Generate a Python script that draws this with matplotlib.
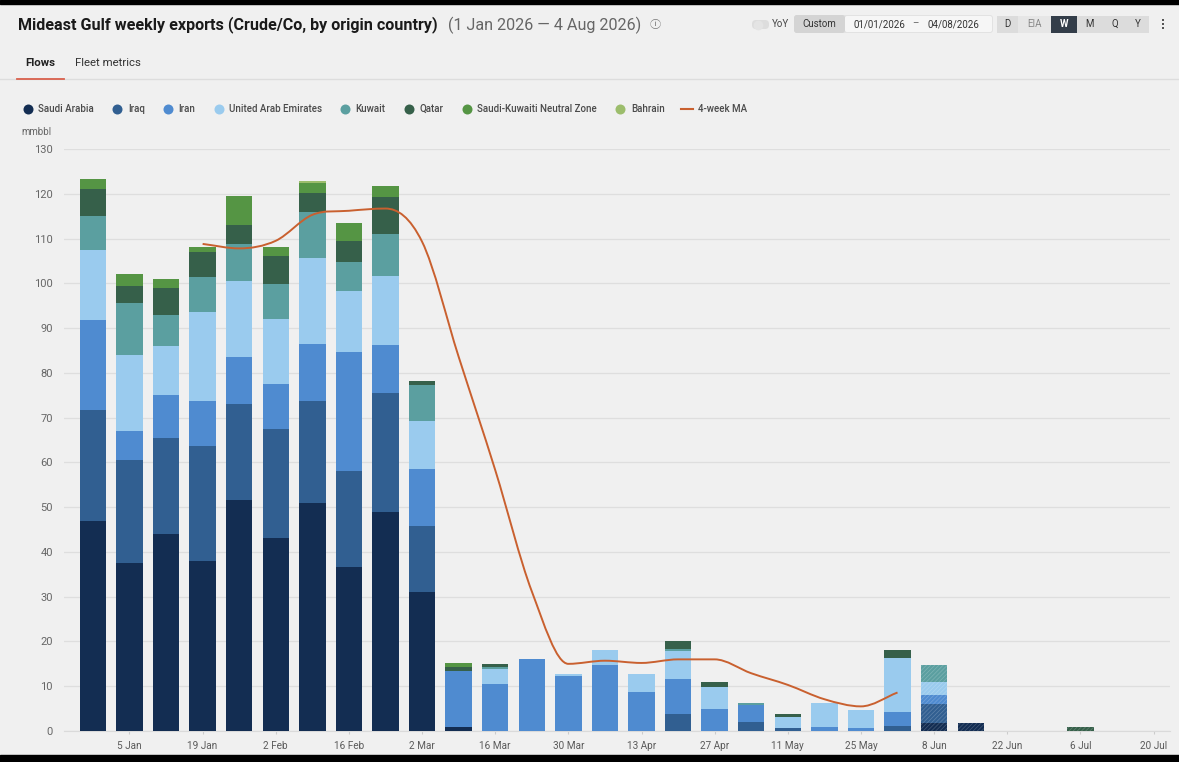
import numpy as np
import matplotlib
matplotlib.use('Agg')
import matplotlib.pyplot as plt
from matplotlib.patches import FancyBboxPatch, PathPatch, Rectangle
from matplotlib.path import Path

plt.rcParams['font.family'] = ['Roboto', 'DejaVu Sans']
plt.rcParams['hatch.linewidth'] = 0.5

# Weekly exports by origin, mmbbl
weeks = ['29 Dec', '5 Jan', '12 Jan', '19 Jan', '26 Jan', '2 Feb', '9 Feb', '16 Feb', '23 Feb', '2 Mar',
         '9 Mar', '16 Mar', '23 Mar', '30 Mar', '6 Apr', '13 Apr', '20 Apr', '27 Apr', '4 May', '11 May',
         '18 May', '25 May', '1 Jun', '8 Jun', '15 Jun', '22 Jun', '29 Jun', '6 Jul', '13 Jul', '20 Jul']
saudi = [47, 37.6, 43.9, 38, 51.7, 43, 51, 36.7, 49, 31,
         1, 0, 0, 0, 0, 0, 0, 0, 0, 0,
         0, 0, 0, 1.8, 1.8, 0, 0, 0, 0, 0]
iraq = [24.8, 22.9, 21.6, 25.6, 21.3, 24.4, 22.6, 21.3, 26.6, 14.8,
        0, 0, 0, 0, 0, 0, 3.8, 0, 1.9, 0.7,
        0, 0, 1.2, 4.3, 0, 0, 0, 0, 0, 0]
iran = [19.9, 6.5, 9.5, 10.2, 10.5, 10.1, 12.9, 26.6, 10.6, 12.8,
        12.5, 10.6, 16.1, 12.3, 14.7, 8.8, 7.9, 4.9, 3.9, 0,
        1, 0.7, 3.1, 1.9, 0, 0, 0, 0, 0, 0]
uae = [15.8, 17, 11, 19.7, 17.1, 14.5, 19.2, 13.7, 15.4, 10.7,
       0, 3.2, 0, 0.4, 3.5, 3.9, 6.1, 4.9, 0, 2.5,
       5.3, 4.1, 11.9, 2.9, 0, 0, 0, 0, 0, 0]
kuwait = [7.5, 11.7, 7, 8, 8.1, 7.8, 10.3, 6.4, 9.4, 7.9,
          0, 0.6, 0, 0, 0, 0, 0.6, 0, 0.5, 0,
          0, 0, 0, 3.9, 0, 0, 0, 0, 0, 0]
qatar = [6, 3.8, 6, 5.5, 4.3, 6.2, 4.2, 4.8, 8.3, 1,
         0.7, 0.6, 0, 0, 0, 0, 1.6, 1.1, 0, 0.6,
         0, 0, 2, 0, 0, 0, 0, 0.9, 0, 0]
neutral = [2.3, 2.5, 2, 1.2, 6.5, 2, 2.3, 4, 2.5, 0,
           0.9, 0, 0, 0, 0, 0, 0, 0, 0, 0,
           0, 0, 0, 0, 0, 0, 0, 0, 0, 0]
bahrain = [0, 0, 0, 0, 0, 0, 0.3, 0, 0, 0,
           0, 0, 0, 0, 0, 0, 0, 0, 0, 0,
           0, 0, 0, 0, 0, 0, 0, 0, 0, 0]
ma_start = 3
ma_4wk = [108.8, 107.8, 109.5, 115.3, 116.2, 116.7, 109.3, 83.6, 58.3, 31.2,
          15, 15.7, 15.2, 16, 16, 12.9, 10.3, 7.1, 5.5, 8.6]

names = ['Saudi Arabia', 'Iraq', 'Iran', 'United Arab Emirates', 'Kuwait', 'Qatar',
         'Saudi-Kuwaiti Neutral Zone', 'Bahrain']
colors = ['#132d52', '#315f91', '#4f8bd0', '#9acbee', '#5b9fa0', '#36604a', '#559544', '#9cbd6c']
series = [saudi, iraq, iran, uae, kuwait, qatar, neutral, bahrain]
bg = '#f0f0f0'
W, H = 1179, 762
provisional_from = 23

fig = plt.figure(figsize=(W / 100, H / 100), dpi=100, facecolor=bg)

# chart
ax = fig.add_axes([64 / W, 1 - 731 / H, (1170 - 64) / W, (731 - 149) / H], facecolor=bg)
x = np.arange(len(weeks))
bottom = np.zeros(len(weeks))
for name, color, vals in zip(names, colors, series):
    vals = np.array(vals, dtype=float)
    bars = ax.bar(x, vals, 0.72, bottom=bottom, color=color, linewidth=0, zorder=3)
    for i, b in enumerate(bars):
        if i >= provisional_from:
            b.set_hatch('////////')
            b.set_edgecolor((1, 1, 1, 0.22))
    bottom += vals


def smooth_path(xs, ys):
    # central-difference spline, flat at turning points, as bezier segments
    xs, ys = np.array(xs, float), np.array(ys, float)
    d = np.diff(ys) / np.diff(xs)
    m = np.zeros(len(ys))
    m[0], m[-1] = d[0], d[-1]
    for i in range(1, len(ys) - 1):
        m[i] = 0 if d[i - 1] * d[i] <= 0 else (d[i - 1] + d[i]) / 2
    verts = [(xs[0], ys[0])]
    codes = [Path.MOVETO]
    for i in range(len(d)):
        h = xs[i + 1] - xs[i]
        verts += [(xs[i] + h / 3, ys[i] + m[i] * h / 3),
                  (xs[i + 1] - h / 3, ys[i + 1] - m[i + 1] * h / 3),
                  (xs[i + 1], ys[i + 1])]
        codes += [Path.CURVE4] * 3
    return Path(verts, codes)


ax.add_patch(PathPatch(smooth_path(x[ma_start:ma_start + len(ma_4wk)], ma_4wk), fill=False,
                       edgecolor='#c9602f', linewidth=1.4, zorder=4))

ax.set_xlim(-0.79, 29.45)
ax.set_ylim(0, 130)
ax.set_yticks(np.arange(0, 131, 10))
ax.set_xticks(x[1::2])
ax.set_xticklabels(weeks[1::2])
ax.tick_params(axis='y', length=0, labelsize=8, labelcolor='#666666', pad=8)
ax.tick_params(axis='x', length=2, color='#cccccc', labelsize=7.2, labelcolor='#5a5a5a', pad=5)
ax.grid(axis='y', color='#dedede', linewidth=0.9, zorder=0)
for s in ['top', 'right', 'left']:
    ax.spines[s].set_visible(False)
ax.spines['bottom'].set_color('#dadada')

# page furniture drawn in pixel coordinates
ui = fig.add_axes([0, 0, 1, 1], facecolor='none', zorder=5)
ui.set_xlim(0, W)
ui.set_ylim(H, 0)
ui.axis('off')


def box(x0, y0, w, h, color, r=2):
    ui.add_patch(FancyBboxPatch((x0 + r, y0 + r), w - 2 * r, h - 2 * r, boxstyle=f'round,pad={r},rounding_size={r}',
                                facecolor=color, edgecolor='none'))


ui.add_patch(Rectangle((0, 0), W, 4, color='black'))
ui.add_patch(Rectangle((0, 755), W, 7, color='black'))

ui.text(18, 25, 'Mideast Gulf weekly exports (Crude/Co, by origin country)', fontsize=11.6, fontweight='bold',
        color='#1a1a1a', va='center')
ui.text(448, 25, '(1 Jan 2026 — 4 Aug 2026)', fontsize=11.6, color='#666666', va='center')
ui.text(655, 25, 'ⓘ', fontsize=8, color='#777777', va='center', ha='center',
        family=['Noto Sans CJK JP', 'DejaVu Sans'])

ui.text(40, 63.5, 'Flows', fontsize=8.2, fontweight='bold', color='#222222', va='center', ha='center')
ui.text(108, 63.5, 'Fleet metrics', fontsize=8.2, color='#333333', va='center', ha='center')
ui.plot([0, W], [79, 79], color='#dddddd', lw=1)
ui.plot([17, 64], [78.5, 78.5], color='#d9604c', lw=1.3)

# legend
legend_dots = [28, 117, 168, 219, 345, 409, 467, 620]
legend_text = [38, 128, 178, 229, 355, 419, 477, 631]
for dx, tx, name, color in zip(legend_dots, legend_text, names, colors):
    ui.plot(dx, 108.5, 'o', ms=7.2, color=color, mew=0)
    ui.text(tx, 108.5, name, fontsize=7, fontweight='medium', color='#4a4a4a', va='center')
ui.plot([681, 693], [108.5, 108.5], color='#c9602f', lw=1.5)
ui.text(698, 108.5, '4-week MA', fontsize=7, fontweight='medium', color='#4a4a4a', va='center')
ui.text(36, 132, 'mmbbl', fontsize=7, color='#666666', va='center', ha='center')

# controls, top right
box(752, 20, 17, 9, '#dddddd', 4)
ui.plot(758, 24.5, 'o', ms=7, color='#e4e4e4', mew=0)
ui.text(772, 24, 'YoY', fontsize=7, color='#444444', va='center')
box(794, 15, 199, 18, '#e2e2e2', 3)
box(845, 16, 147, 16, '#f6f6f6', 2)
box(794, 15, 51, 18, '#d4d4d4', 3)
ui.text(819, 24, 'Custom', fontsize=7, color='#333333', va='center', ha='center')
ui.text(879, 24, '01/01/2026', fontsize=7, color='#333333', va='center', ha='center')
ui.text(915, 23, '–', fontsize=7, color='#666666', va='center', ha='center')
ui.text(953, 24, '04/08/2026', fontsize=7, color='#333333', va='center', ha='center')
freq_x = [997, 1018, 1051, 1077, 1103, 1127]
freq_w = [21, 33, 26, 26, 24, 22]
freq_labels = ['D', 'EIA', 'W', 'M', 'Q', 'Y']
freq_bg = ['#dcdcdc', '#e6e6e6', '#333d49', '#dcdcdc', '#dcdcdc', '#dcdcdc']
freq_fg = ['#333333', '#888888', 'white', '#333333', '#333333', '#333333']
for fx, fw, lab, fb, fc in zip(freq_x, freq_w, freq_labels, freq_bg, freq_fg):
    ui.add_patch(Rectangle((fx, 16), fw, 17, color=fb, lw=0))
    ui.text(fx + fw / 2, 24, lab, fontsize=7, color=fc, va='center', ha='center', fontweight='bold' if lab == 'W' else 'normal')
ui.plot([1163, 1163, 1163], [20, 24, 28], 's', ms=1.6, color='#555555', mew=0)

fig.savefig('out.png', dpi=100, facecolor=bg)
